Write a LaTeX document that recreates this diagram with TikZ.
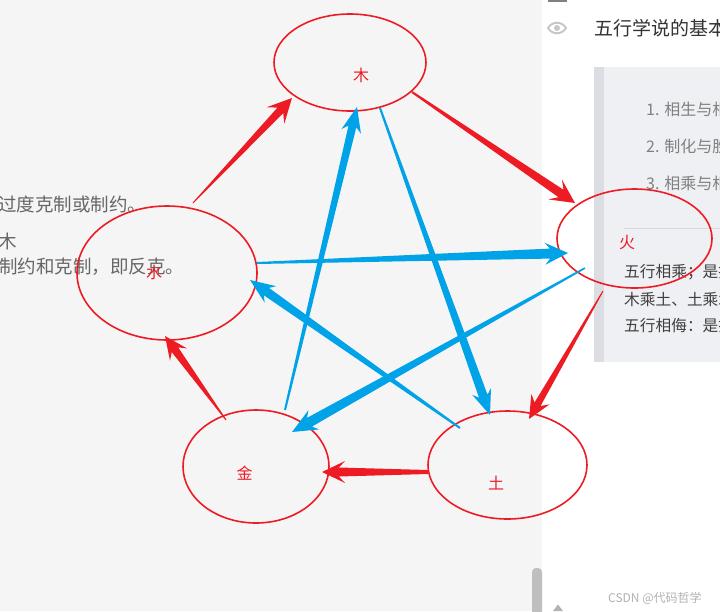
\documentclass[tikz,border=0pt]{standalone}
\usepackage{fontspec}
\newfontfamily\cjk{Noto Sans CJK SC}
\usetikzlibrary{calc,shapes.geometric}
\definecolor{pred}{HTML}{ED1C24}
\definecolor{pblue}{HTML}{00A2E8}
\definecolor{leftbg}{HTML}{F5F5F5}
\definecolor{panelbg}{HTML}{EFF0F3}
\definecolor{panelbar}{HTML}{DCDDE2}
% tapered arrow: #1 colour, #2 tail, #3 tip, #4 tail half width, #5 shaft end half width,
% #6 head length, #7 head half width, #8 barb setback
\newcommand{\tarr}[8]{%
  \coordinate (tC) at ($(#3)!#6!(#2)$);
  \coordinate (tD) at ($(#3)!#6+#8!(#2)$);
  \fill[#1] ($(#2)!#4!90:(#3)$) -- ($(tC)!#5!90:(#3)$) -- ($(tD)!#7!90:(#3)$) -- (#3)
    -- ($(tD)!#7!-90:(#3)$) -- ($(tC)!#5!-90:(#3)$) -- ($(#2)!#4!-90:(#3)$) -- cycle;}
\begin{document}
\begin{tikzpicture}[x=1pt,y=-1pt,
  elem/.style={draw=pred, line width=1.6pt, ellipse, inner sep=0pt},
  elabel/.style={text=pred, font=\cjk\fontsize{16pt}{18pt}\selectfont, inner sep=0pt},
  bgtext/.style={text=black!60, anchor=west, inner sep=0pt, font=\cjk\fontsize{18.5pt}{20pt}\selectfont},
  ptext/.style={text=black!75, anchor=west, inner sep=0pt, font=\cjk\fontsize{15.7pt}{18pt}\selectfont},
  ltext/.style={text=black!50, anchor=west, inner sep=0pt, font=\cjk\fontsize{16pt}{18pt}\selectfont}]
\useasboundingbox (0,0) rectangle (720,611);
\begin{scope}
\clip (0,0) rectangle (720,611);
% backgrounds
\fill[white] (0,0) rectangle (720,611);
\fill[leftbg] (0,0) rectangle (542,611);
\fill[panelbg] (594,66.5) rectangle (720,361.5);
\fill[panelbar] (594,66.5) rectangle (604,361.5);
\draw[black!15, line width=1pt] (624,228) -- (720,228);
\fill[black!25, rounded corners=4pt] (532,568) rectangle (542,620);
\fill[black!50] (548,0) rectangle (567,1.5);
% eye icon
\draw[black!22, line width=2pt] (548,28) .. controls (552,21) and (562,21) .. (566,28)
  .. controls (562,35) and (552,35) .. (548,28) -- cycle;
\fill[black!22] (557,28) circle (3);
\fill[black!30] (553,611) -- (558,604.5) -- (563,611) -- cycle;
% texts of the page
\node[text=black!80, anchor=west, inner sep=0pt, font=\cjk\fontsize{19pt}{21pt}\selectfont] (title) at (594,28.5) {五行学说的基本内容};
\node[ltext] (l1) at (646,109) {1. 相生与相克};
\node[ltext] (l2) at (646,146) {2. 制化与胜复};
\node[ltext] (l3) at (646,183) {3. 相乘与相侮};
\node[ptext] (p1) at (624,272.5) {五行相乘；是指};
\node[ptext] (p2) at (624,300) {木乘土、土乘水};
\node[ptext] (p3) at (624,325.5) {五行相侮：是指};
\node[bgtext] (b1) at (-2,204.5) {过度克制或制约。};
\node[bgtext] (b2) at (-2,241.5) {木};
\node[bgtext] (b3) at (-1,266.5) {制约和克制，即反克。};
\node[text=black!30, anchor=west, inner sep=0pt, font=\cjk\fontsize{12pt}{14pt}\selectfont] (wm) at (608,598) {CSDN @代码哲学};
% elements
\node[elem, minimum width=152, minimum height=97] (mu) at (350,62.5) {};
\node[elem, minimum width=155, minimum height=99] (huo) at (634.5,238.5) {};
\node[elem, minimum width=180, minimum height=134] (shui) at (167,273) {};
\node[elem, minimum width=146, minimum height=113] (jin) at (256,466.5) {};
\node[elem, minimum width=159, minimum height=108] (tu) at (507.5,465) {};
\node[elabel] (tmu) at (361,75) {木};
\node[elabel] (thuo) at (627,243) {火};
\node[elabel] (tshui) at (154,272) {水};
\node[elabel] (tjin) at (244.5,473) {金};
\node[elabel] (ttu) at (496,483) {土};
% connector ends
\coordinate (r1s) at (193,203); \coordinate (r1e) at (292,98);
\coordinate (r2s) at (412,92);  \coordinate (r2e) at (575,203);
\coordinate (r3s) at (603,291); \coordinate (r3e) at (529,419);
\coordinate (r4s) at (428,472); \coordinate (r4e) at (322,472);
\coordinate (r5s) at (226,420); \coordinate (r5e) at (165,336);
\coordinate (b6s) at (285,410); \coordinate (b6e) at (357,107);
\coordinate (b7s) at (380,108); \coordinate (b7e) at (490,415);
\coordinate (b8s) at (257,263); \coordinate (b8e) at (568,253);
\coordinate (b9s) at (585,268); \coordinate (b9e) at (292,432);
\coordinate (b10s) at (460,428); \coordinate (b10e) at (250,280);
% red: generating cycle
\tarr{pred}{r1s}{r1e}{0.5pt}{4pt}{17pt}{12pt}{7pt}
\tarr{pred}{r2s}{r2e}{1pt}{4.5pt}{17pt}{12pt}{7pt}
\tarr{pred}{r3s}{r3e}{0.5pt}{3.5pt}{17pt}{10.5pt}{6pt}
\tarr{pred}{r4s}{r4e}{2pt}{4.5pt}{17pt}{11pt}{6pt}
\tarr{pred}{r5s}{r5e}{0.5pt}{4pt}{17pt}{10.5pt}{6pt}
% blue: restraining cycle
\tarr{pblue}{b6s}{b6e}{1pt}{4pt}{20pt}{10pt}{5pt}
\tarr{pblue}{b7s}{b7e}{1pt}{4.5pt}{20pt}{10pt}{5pt}
\tarr{pblue}{b8s}{b8e}{1pt}{5pt}{18pt}{11pt}{5pt}
\tarr{pblue}{b9s}{b9e}{0.8pt}{5pt}{20pt}{11pt}{5pt}
\tarr{pblue}{b10s}{b10e}{1pt}{4.5pt}{20pt}{10pt}{5pt}
\end{scope}
\end{tikzpicture}
\end{document}
